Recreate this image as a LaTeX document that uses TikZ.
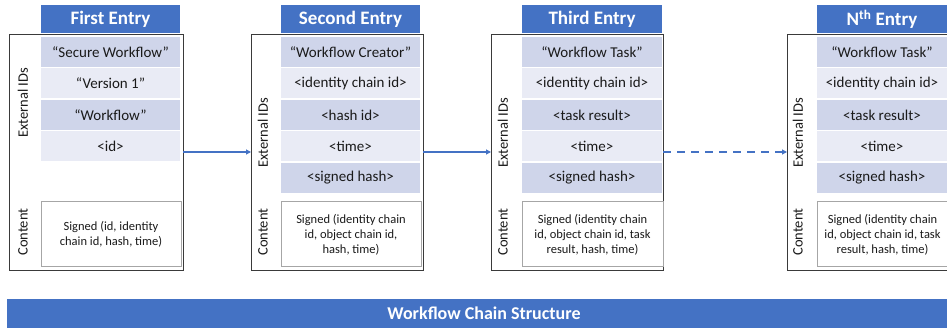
\documentclass[tikz,border=0pt]{standalone}
\usepackage{fontspec}
\setmainfont{Carlito}
\usetikzlibrary{arrows.meta}
\definecolor{hblue}{HTML}{4472C4}
\definecolor{rowdark}{HTML}{CFD5EA}
\definecolor{rowlight}{HTML}{E9EBF5}
\definecolor{cgray}{HTML}{A6A6A6}
\definecolor{obox}{HTML}{3A3A3A}
\definecolor{txt}{HTML}{1A1A1A}
\begin{document}
\begin{tikzpicture}[x=1pt,y=-1pt,
 outerbox/.style={draw=obox, line width=0.9pt, fill=white, inner sep=0pt, outer sep=0pt, minimum height=236pt},
 header/.style={fill=hblue, text=white, font=\fontsize{19}{22}\selectfont\bfseries, minimum height=28pt, inner sep=0pt},
 rowd/.style={fill=rowdark, text=txt, font=\fontsize{15}{18}\selectfont, minimum height=30pt, inner sep=0pt},
 rowl/.style={rowd, fill=rowlight},
 contentbox/.style={draw=cgray, line width=1pt, fill=white, text=txt, font=\fontsize{12.5}{15}\selectfont, align=center, inner sep=0pt, minimum height=65pt},
 sidelabel/.style={rotate=90, text=txt, font=\fontsize{14.5}{17}\selectfont},
 arr/.style={draw=hblue, line width=1.1pt, -{Triangle[length=5pt,width=5pt]}},
]
\useasboundingbox (0,0) rectangle (947,328);
\clip (0,0) rectangle (947,328);

% ---------- First entry ----------
\node[outerbox, minimum width=174pt] (b1) at (96,152) {};
\node[header, minimum width=139pt] (h1) at (110.5,19) {First Entry};
\node[rowd, minimum width=139pt] (r11) at (110.5,52) {“Secure Workflow”};
\node[rowl, minimum width=139pt] (r12) at (110.5,83.5) {“Version 1”};
\node[rowd, minimum width=139pt] (r13) at (110.5,115) {“Workflow”};
\node[rowl, minimum width=139pt] (r14) at (110.5,146.5) {<id>};
\node[contentbox, minimum width=140pt] (c1) at (111,234.5) {Signed (id, identity\\chain id, hash, time)};
\node[sidelabel] (e1) at (23,103) {External IDs};
\node[sidelabel] (k1) at (23,232) {Content};

% ---------- Second entry ----------
\node[outerbox, minimum width=172pt] (b2) at (337,152) {};
\node[header, minimum width=139pt] (h2) at (350.5,19) {Second Entry};
\node[rowd, minimum width=139pt] (r21) at (350.5,52) {“Workflow Creator”};
\node[rowl, minimum width=139pt] (r22) at (350.5,83.5) {<identity chain id>};
\node[rowd, minimum width=139pt] (r23) at (350.5,115) {<hash id>};
\node[rowl, minimum width=139pt] (r24) at (350.5,146.5) {<time>};
\node[rowd, minimum width=139pt] (r25) at (350.5,178) {<signed hash>};
\node[contentbox, minimum width=140pt] (c2) at (351,234.5) {Signed (identity chain\\id, object chain id,\\hash, time)};
\node[sidelabel] (e2) at (263,133) {External IDs};
\node[sidelabel] (k2) at (263,232) {Content};

% ---------- Third entry ----------
\node[outerbox, minimum width=172pt] (b3) at (577,152) {};
\node[header, minimum width=140pt] (h3) at (592,19) {Third Entry};
\node[rowd, minimum width=140pt] (r31) at (592,52) {“Workflow Task”};
\node[rowl, minimum width=140pt] (r32) at (592,83.5) {<identity chain id>};
\node[rowd, minimum width=140pt] (r33) at (592,115) {<task result>};
\node[rowl, minimum width=140pt] (r34) at (592,146.5) {<time>};
\node[rowd, minimum width=140pt] (r35) at (592,178) {<signed hash>};
\node[contentbox, minimum width=141pt] (c3) at (592.5,234.5) {Signed (identity chain\\id, object chain id, task\\result, hash, time)};
\node[sidelabel] (e3) at (503,133) {External IDs};
\node[sidelabel] (k3) at (503,232) {Content};

% ---------- Nth entry ----------
\node[outerbox, minimum width=172pt] (b4) at (873,152) {};
\node[header, minimum width=130pt] (h4) at (882,19) {N\textsuperscript{th} Entry};
\node[rowd, minimum width=130pt] (r41) at (882,52) {“Workflow Task”};
\node[rowl, minimum width=130pt] (r42) at (882,83.5) {<identity chain id>};
\node[rowd, minimum width=130pt] (r43) at (882,115) {<task result>};
\node[rowl, minimum width=130pt] (r44) at (882,146.5) {<time>};
\node[rowd, minimum width=130pt] (r45) at (882,178) {<signed hash>};
\node[contentbox, minimum width=131pt] (c4) at (882.5,234.5) {Signed (identity chain\\id, object chain id, task\\result, hash, time)};
\node[sidelabel] (e4) at (798,133) {External IDs};
\node[sidelabel] (k4) at (798,232) {Content};

% ---------- connectors ----------
\draw[arr] (b1.east) -- (b2.west);
\draw[arr] (b2.east) -- (b3.west);
\draw[arr, dash pattern=on 8pt off 6pt] (b3.east) -- (b4.west);

% ---------- bottom bar ----------
\node[fill=hblue, text=white, font=\fontsize{18}{21}\selectfont\bfseries, minimum width=954pt, minimum height=29pt, inner sep=0pt] (bar) at (484,313.5) {Workflow Chain Structure};
\end{tikzpicture}
\end{document}
